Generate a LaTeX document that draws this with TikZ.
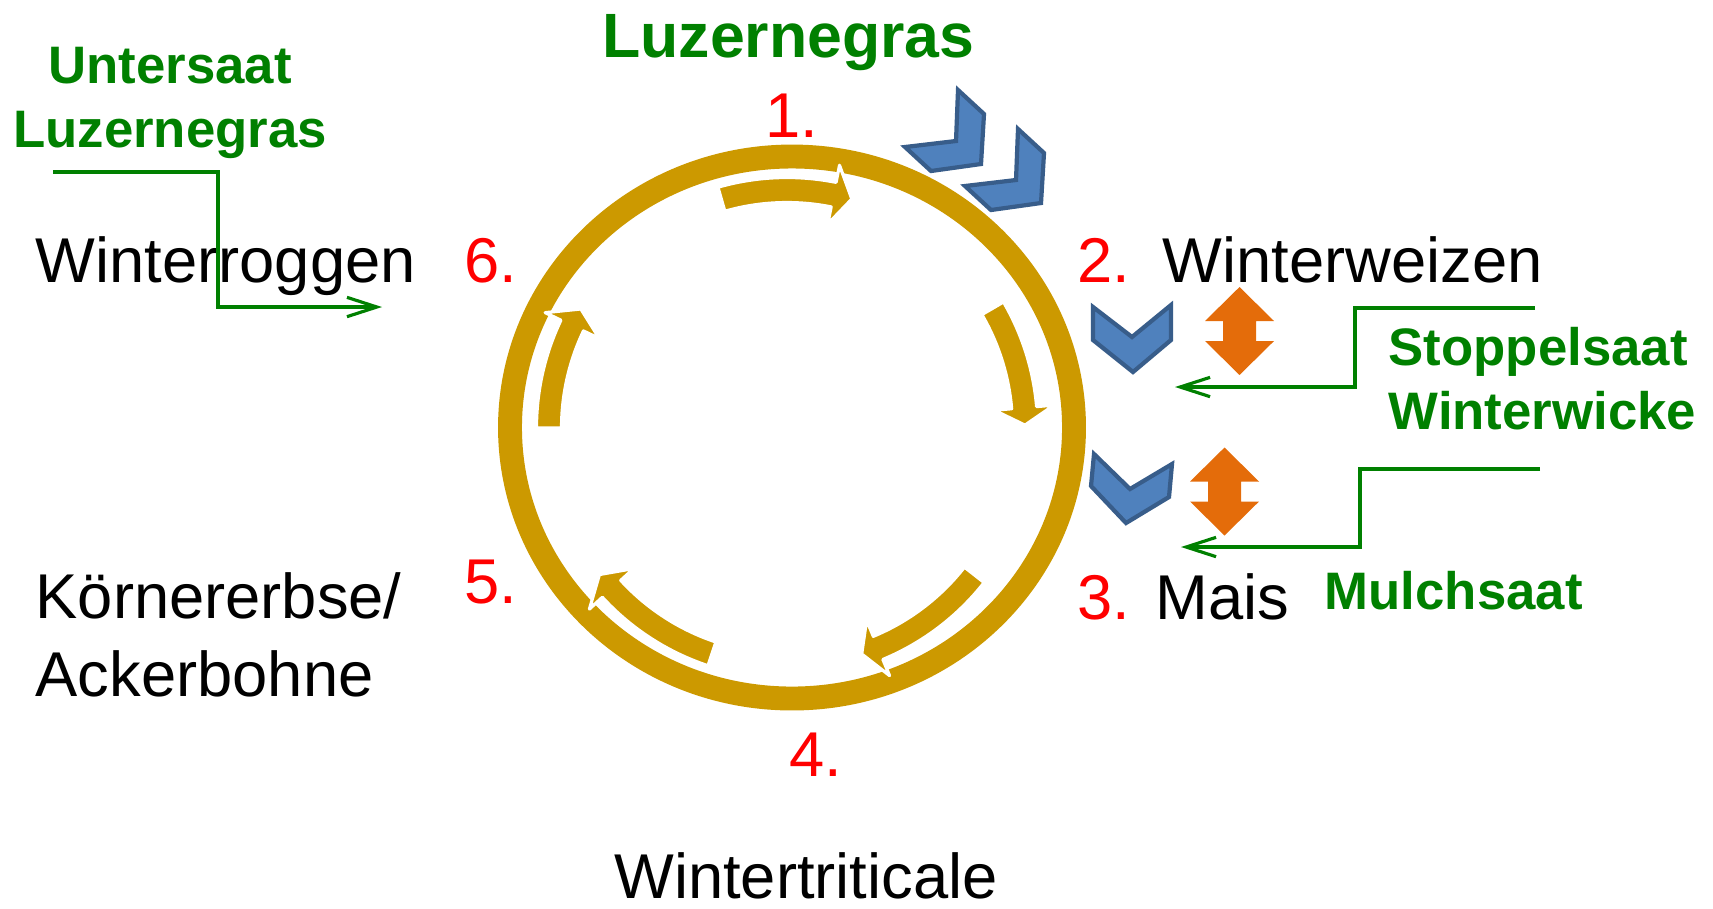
\documentclass[tikz,border=0pt]{standalone}
\usepackage{fontspec}
\setmainfont{Liberation Sans}
\usetikzlibrary{arrows.meta}
\definecolor{ringgold}{RGB}{204,153,0}
\definecolor{seedgreen}{RGB}{0,128,0}
\definecolor{chevfill}{RGB}{79,129,189}
\definecolor{chevline}{RGB}{56,93,138}
\definecolor{tillorange}{RGB}{228,108,10}
\tikzset{
  >=latex,
  crop/.style={font=\fontsize{18}{22}\selectfont,inner sep=0pt,anchor=base west},
  yearno/.style={crop,text=red},
  sowing/.style={font=\fontsize{15}{18.2}\selectfont\bfseries,text=seedgreen,inner sep=0pt},
  feed/.style={seedgreen,line width=0.9pt,-{Straight Barb[length=8.5pt,width=5.5pt]}},
  ring/.style={ringgold,line width=6.8pt},
  turn/.style={fill=ringgold,draw=white,line width=0.9pt,line join=round},
  chev/.style={fill=chevfill,draw=chevline,line width=1.2pt,line join=miter},
  till/.style={fill=tillorange}
}
\newcommand\turnarrow[3]{%
  \filldraw[turn] (#1:250.5) arc[start angle=#1,end angle=#2,radius=250.5]
    -- (#2:268) -- (#3:238) -- (#2:208) -- (#2:225.5)
    arc[start angle=#2,end angle=#1,radius=225.5] -- cycle;}

\begin{document}
\begin{tikzpicture}[x=0.01cm,y=-0.01cm]
  \useasboundingbox (0,0) rectangle (1713,908);

  \draw[ring] (792,427.5) ellipse[x radius=282,y radius=271];
  \begin{scope}[shift={(787,428)},y=0.01cm]
    \turnarrow{106}{78.7}{74.2}
    \turnarrow{30.2}{4.9}{0.7}
    \turnarrow{-38.1}{-67.5}{-71.7}
    \turnarrow{-108.4}{-137.5}{-142}
    \turnarrow{180}{154.5}{150}
  \end{scope}

  \foreach \s in {(0,0),(60,39)}
    \draw[chev,shift={\s}] (958,90) -- (984,114) -- (981,164) -- (931,171)
      -- (905,147) -- (956,141) -- cycle;
  \draw[chev] (1093,307) -- (1132,337) -- (1171,305) -- (1171,340)
    -- (1133,372) -- (1093,340) -- cycle;
  \draw[chev] (1094,454) -- (1130,489) -- (1172,464) -- (1169,497)
    -- (1126,523) -- (1091,486) -- cycle;
  \foreach \p in {(1239.5,331),(1224.5,491.5)}
    \fill[till,shift={\p}] (0,-44) -- (34.5,-10) -- (16.5,-10) -- (16.5,10)
      -- (34.5,10) -- (0,44) -- (-34.5,10) -- (-16.5,10) -- (-16.5,-10)
      -- (-34.5,-10) -- cycle;

  \node[sowing,font=\fontsize{17.8}{21}\selectfont\bfseries,anchor=base] (topsow) at (788.5,57) {Luzernegras};
  \node[sowing,align=center,anchor=base] (undersow) at (170,147) {Untersaat\\Luzernegras};
  \node[sowing,align=left,anchor=base west] (stubble) at (1388,429) {Stoppelsaat\\Winterwicke};
  \node[sowing,anchor=base west] (mulch) at (1324,609) {Mulchsaat};

  \node[yearno] (n1) at (765,137) {1.};
  \node[yearno] (n2) at (1077,282) {2.};
  \node[yearno] (n3) at (1077,619) {3.};
  \node[yearno] (n4) at (789,776) {4.};
  \node[yearno] (n5) at (464,603) {5.};
  \node[yearno] (n6) at (464,282) {6.};

  \node[crop] (c2) at (1162,282) {Winterweizen};
  \node[crop] (c3) at (1155,619) {Mais};
  \node[crop,anchor=base] (c4) at (806,898) {Wintertriticale};
  \node[crop,align=left] (c5) at (35,696) {Körnererbse/\\Ackerbohne};
  \node[crop] (c6) at (35,282) {Winterroggen};

  \coordinate (us0) at (53,172);
  \coordinate (usk) at (218,240);
  \coordinate (us1) at (382,307);
  \coordinate (ss0) at (1535,308);
  \coordinate (ssk) at (1355,350);
  \coordinate (ss1) at (1175,387);
  \coordinate (ms0) at (1540,469);
  \coordinate (msk) at (1360,510);
  \coordinate (ms1) at (1181,547);
  \draw[feed] (us0) -| (usk) |- (us1);
  \draw[feed] (ss0) -| (ssk) |- (ss1);
  \draw[feed] (ms0) -| (msk) |- (ms1);
\end{tikzpicture}
\end{document}
